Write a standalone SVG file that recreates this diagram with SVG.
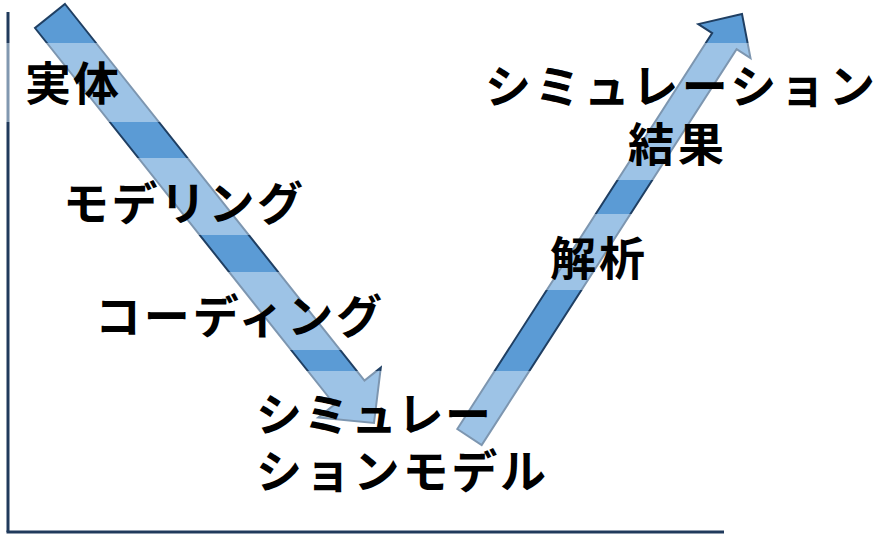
<svg xmlns="http://www.w3.org/2000/svg" width="876" height="534" viewBox="0 0 876 534">
<style>
.lbl{font-family:"Noto Sans CJK JP","Noto Sans",sans-serif;font-weight:700;font-size:46px;fill:#000;}
.arrow{stroke-width:2;stroke-linejoin:miter;}
</style>
<defs>
<linearGradient id="f1" gradientUnits="userSpaceOnUse" x1="0" y1="0" x2="0" y2="1000">
<stop offset="0" stop-color="#5B9BD5"/><stop offset="0.043" stop-color="#5B9BD5"/>
<stop offset="0.043" stop-color="#9DC3E6"/><stop offset="0.122" stop-color="#9DC3E6"/>
<stop offset="0.122" stop-color="#5B9BD5"/><stop offset="0.158" stop-color="#5B9BD5"/>
<stop offset="0.158" stop-color="#9DC3E6"/><stop offset="0.235" stop-color="#9DC3E6"/>
<stop offset="0.235" stop-color="#5B9BD5"/><stop offset="0.272" stop-color="#5B9BD5"/>
<stop offset="0.272" stop-color="#9DC3E6"/><stop offset="0.350" stop-color="#9DC3E6"/>
<stop offset="0.350" stop-color="#5B9BD5"/><stop offset="0.371" stop-color="#5B9BD5"/>
<stop offset="0.371" stop-color="#9DC3E6"/><stop offset="1" stop-color="#9DC3E6"/>
</linearGradient>
<linearGradient id="s1" gradientUnits="userSpaceOnUse" x1="0" y1="0" x2="0" y2="1000">
<stop offset="0" stop-color="#1F3F63"/><stop offset="0.043" stop-color="#1F3F63"/>
<stop offset="0.043" stop-color="#7D96B0"/><stop offset="0.122" stop-color="#7D96B0"/>
<stop offset="0.122" stop-color="#1F3F63"/><stop offset="0.158" stop-color="#1F3F63"/>
<stop offset="0.158" stop-color="#7D96B0"/><stop offset="0.235" stop-color="#7D96B0"/>
<stop offset="0.235" stop-color="#1F3F63"/><stop offset="0.272" stop-color="#1F3F63"/>
<stop offset="0.272" stop-color="#7D96B0"/><stop offset="0.350" stop-color="#7D96B0"/>
<stop offset="0.350" stop-color="#1F3F63"/><stop offset="0.371" stop-color="#1F3F63"/>
<stop offset="0.371" stop-color="#7D96B0"/><stop offset="1" stop-color="#7D96B0"/>
</linearGradient>
<linearGradient id="f2" gradientUnits="userSpaceOnUse" x1="0" y1="0" x2="0" y2="1000">
<stop offset="0" stop-color="#5B9BD5"/><stop offset="0.043" stop-color="#5B9BD5"/>
<stop offset="0.043" stop-color="#9DC3E6"/><stop offset="0.180" stop-color="#9DC3E6"/>
<stop offset="0.180" stop-color="#5B9BD5"/><stop offset="0.214" stop-color="#5B9BD5"/>
<stop offset="0.214" stop-color="#9DC3E6"/><stop offset="0.290" stop-color="#9DC3E6"/>
<stop offset="0.290" stop-color="#5B9BD5"/><stop offset="0.371" stop-color="#5B9BD5"/>
<stop offset="0.371" stop-color="#9DC3E6"/><stop offset="1" stop-color="#9DC3E6"/>
</linearGradient>
<linearGradient id="s2" gradientUnits="userSpaceOnUse" x1="0" y1="0" x2="0" y2="1000">
<stop offset="0" stop-color="#1F3F63"/><stop offset="0.043" stop-color="#1F3F63"/>
<stop offset="0.043" stop-color="#7D96B0"/><stop offset="0.180" stop-color="#7D96B0"/>
<stop offset="0.180" stop-color="#1F3F63"/><stop offset="0.214" stop-color="#1F3F63"/>
<stop offset="0.214" stop-color="#7D96B0"/><stop offset="0.290" stop-color="#7D96B0"/>
<stop offset="0.290" stop-color="#1F3F63"/><stop offset="0.371" stop-color="#1F3F63"/>
<stop offset="0.371" stop-color="#7D96B0"/><stop offset="1" stop-color="#7D96B0"/>
</linearGradient>
<linearGradient id="ax" gradientUnits="userSpaceOnUse" x1="0" y1="0" x2="0" y2="1000">
<stop offset="0" stop-color="#203A5C"/><stop offset="0.043" stop-color="#203A5C"/>
<stop offset="0.043" stop-color="#8198B0"/><stop offset="0.122" stop-color="#8198B0"/>
<stop offset="0.122" stop-color="#203A5C"/><stop offset="1" stop-color="#203A5C"/>
</linearGradient>
</defs>
<g id="axes">
<line x1="8" y1="12" x2="8" y2="532" stroke="url(#ax)" stroke-width="3"/>
<line x1="6.5" y1="532" x2="724" y2="532" stroke="#203A5C" stroke-width="3"/>
</g>
<g id="connectors">
<polygon id="arrow-down" class="arrow" fill="url(#f1)" stroke="url(#s1)" points="65,4 364.5,380.5 380.8,367.6 374,423 318.2,417.4 334.5,404.5 35,28"/>
<polygon id="arrow-up" class="arrow" fill="url(#f2)" stroke="url(#s2)" points="457.3,429 712.2,33.1 698.3,24.1 742,14 750.5,58.1 736.6,49.1 481.7,445"/>
</g>
<g id="node-jittai"><text class="lbl" x="25" y="100" textLength="94" lengthAdjust="spacing">実体</text></g>
<g id="node-modeling"><text class="lbl" x="63" y="220" textLength="240" lengthAdjust="spacing">モデリング</text></g>
<g id="node-coding"><text class="lbl" x="95" y="333" textLength="287" lengthAdjust="spacing">コーディング</text></g>
<g id="node-simmodel">
<text class="lbl" x="256" y="431" textLength="235" lengthAdjust="spacing">シミュレー</text>
<text class="lbl" x="256" y="488" textLength="290" lengthAdjust="spacing">ションモデル</text>
</g>
<g id="node-analysis"><text class="lbl" x="550" y="275" textLength="95" lengthAdjust="spacing">解析</text></g>
<g id="node-simresult">
<text class="lbl" x="485" y="103" textLength="390" lengthAdjust="spacing">シミュレーション</text>
<text class="lbl" x="628" y="161" textLength="96" lengthAdjust="spacing">結果</text>
</g>
</svg>
